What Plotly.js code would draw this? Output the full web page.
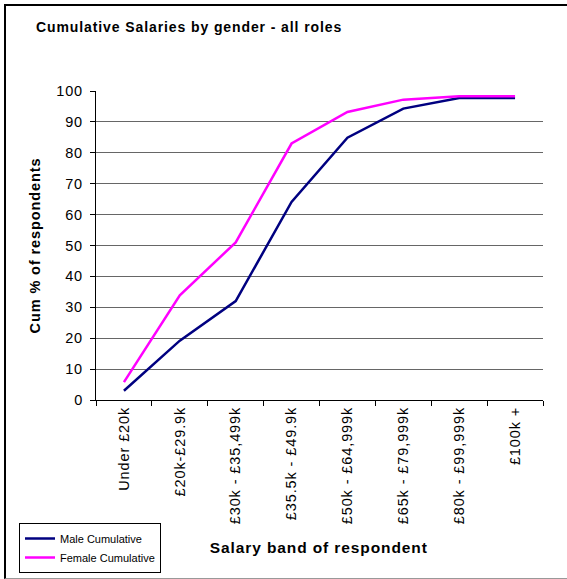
<!DOCTYPE html>
<html>
<head>
<meta charset="utf-8">
<script src="https://cdn.plot.ly/plotly-3.0.1.min.js"></script>
<style>
html,body{margin:0;padding:0;background:#fff;}
#wrap{position:relative;width:567px;height:579px;overflow:hidden;}
#chart{position:absolute;left:0;top:0;width:567px;height:579px;}
#frame{position:absolute;left:4px;top:4px;width:600px;height:572px;border-left:2px solid #000;border-top:2px solid #000;border-bottom:1px solid #999;pointer-events:none;}
#chart text{letter-spacing:0.9px;}
#chart .legendtext{letter-spacing:0px;}
</style>
</head>
<body>
<div id="wrap"><div id="chart"></div><div id="frame"></div></div>
<script>
const categories = ["Under £20k","£20k-£29.9k","£30k - £35,499k","£35.5k - £49.9k","£50k - £64,999k","£65k - £79,999k","£80k - £99,999k","£100k +"];
const maleCumulative = [3, 19.2, 32, 64.1, 84.9, 94.3, 97.7, 97.7];
const femaleCumulative = [5.8, 33.9, 51, 83, 93.2, 97.2, 98.3, 98.3];
const yTicks = [0,10,20,30,40,50,60,70,80,90,100];

const font = "Liberation Sans, Arial, sans-serif";
const traces = [
  {x: categories, y: maleCumulative, name: "Male Cumulative", type: "scatter", mode: "lines",
   line: {color: "#000080", width: 2.5}},
  {x: categories, y: femaleCumulative, name: "Female Cumulative", type: "scatter", mode: "lines",
   line: {color: "#FF00FF", width: 2.5}}
];
const layout = {
  width: 567, height: 579,
  margin: {l: 96, r: 24, t: 91, b: 179, autoexpand: false},
  paper_bgcolor: "rgba(0,0,0,0)", plot_bgcolor: "#fff",
  font: {family: font, color: "#000", size: 14},
  title: {text: "<b>Cumulative Salaries by gender - all roles</b>", x: 36/567, xanchor: "left", y: 1 - 27/579, yanchor: "middle",
          font: {family: font, size: 14, color: "#000"}},
  showlegend: true,
  legend: {x: (19-96)/447, y: (400-573)/309, xanchor: "left", yanchor: "bottom", bordercolor: "#000", borderwidth: 1,
           bgcolor: "#fff", font: {family: font, size: 11, color: "#000"}, tracegroupgap: 0, itemwidth: 30},
  xaxis: {type: "category", range: [-0.5, 7.5], showgrid: false, showline: true, linecolor: "#000", linewidth: 1,
          ticks: "outside", ticklen: 5, tickcolor: "#000", tickson: "boundaries", tickangle: -90,
          tickfont: {family: font, size: 14.5, color: "#000"}, fixedrange: true, automargin: false},
  yaxis: {range: [0, 100], tickvals: yTicks, showgrid: true, gridcolor: "#666", gridwidth: 1, zeroline: false,
          showline: true, linecolor: "#000", linewidth: 1, ticks: "outside", ticklen: 5, tickcolor: "#000",
          ticklabelstandoff: 4,
          tickfont: {family: font, size: 14.5, color: "#000"}, automargin: false,
          title: {text: "<b>Cum % of respondents</b>", font: {family: font, size: 14.5, color: "#000"}, standoff: 14}},
  annotations: [
    {text: "<b>Salary band of respondent</b>", xref: "paper", yref: "paper", x: (319-96)/447, y: (400-547)/309,
     xanchor: "center", yanchor: "middle", showarrow: false, font: {family: font, size: 15.5, color: "#000"}}
  ]
};
Plotly.newPlot("chart", traces, layout, {displayModeBar: false, staticPlot: true});
</script>
</body>
</html>
